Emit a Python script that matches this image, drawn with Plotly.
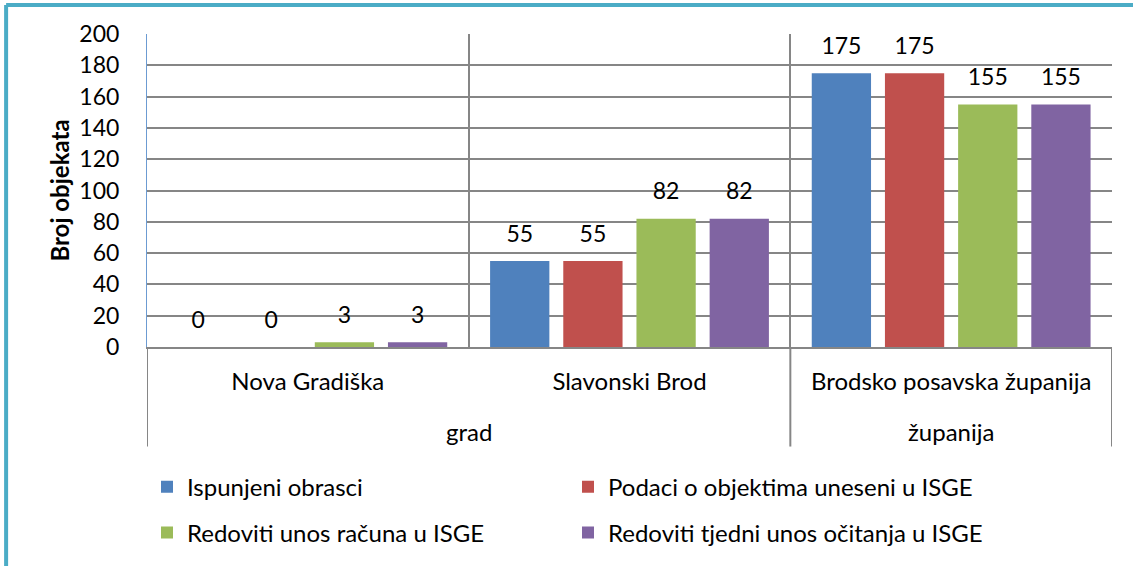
import plotly.graph_objects as go

categories = ["Nova Gradiška", "Slavonski Brod", "Brodsko posavska županija"]
groups = ["grad", "grad", "županija"]
series_names = [
    "Ispunjeni obrasci",
    "Podaci o objektima uneseni u ISGE",
    "Redoviti unos računa u ISGE",
    "Redoviti tjedni unos očitanja u ISGE",
]
ispunjeni = [0, 55, 175]
podaci = [0, 55, 175]
racuni = [3, 82, 155]
tjedni = [3, 82, 155]
series_values = [ispunjeni, podaci, racuni, tjedni]
colors = ["#4F81BD", "#C0504D", "#9BBB59", "#8064A2"]
legend_ids = ["legend", "legend", "legend2", "legend2"]
y_ticks = list(range(0, 201, 20))

FONT = "Lato"
fig = go.Figure()

for i, (name, vals) in enumerate(zip(series_names, series_values)):
    fig.add_trace(go.Bar(
        x=categories, y=vals, name=name,
        marker=dict(color=colors[i], line=dict(width=0)),
        offsetgroup=str(i), legend=legend_ids[i],
    ))
for i, (name, vals) in enumerate(zip(series_names, series_values)):
    fig.add_trace(go.Scatter(
        x=categories, y=vals, mode="text+markers", text=[str(v) for v in vals],
        textposition="top center", textfont=dict(family=FONT, size=23, color="#000"),
        marker=dict(size=20, opacity=0), offsetgroup=str(i), showlegend=False,
        cliponaxis=False, hoverinfo="skip",
    ))

n = len(categories)
shapes = []
annotations = []
start = 0
bounds = [-0.5]
for j in range(1, n + 1):
    if j == n or groups[j] != groups[start]:
        center = (start + j - 1) / 2
        annotations.append(dict(x=center, xref="x", y=-0.27, yref="paper", text=groups[start],
                                showarrow=False, font=dict(family=FONT, size=24, color="#000"),
                                yanchor="middle"))
        bounds.append(j - 0.5)
        start = j
for b in bounds:
    shapes.append(dict(type="line", xref="x", yref="paper", x0=b, x1=b, y0=0, y1=-0.318,
                       line=dict(color="#868686", width=2)))

# teal frame (top and left)
shapes.append(dict(type="line", xref="paper", yref="paper", x0=-0.146, x1=1.03, y0=1.093, y1=1.093,
                   line=dict(color="#4BACC6", width=4)))
shapes.append(dict(type="line", xref="paper", yref="paper", x0=-0.146, x1=-0.146, y0=1.093, y1=-0.72,
                   line=dict(color="#4BACC6", width=4)))

fig.update_layout(
    width=1133, height=566,
    margin=dict(l=147, r=21, t=34, b=218),
    paper_bgcolor="white", plot_bgcolor="white",
    barmode="group", bargap=0.09, bargroupgap=0.19,
    scattermode="group", scattergap=0.09,
    font=dict(family=FONT, size=24, color="#000"),
    shapes=shapes, annotations=annotations,
    legend=dict(orientation="h", x=0.0, xanchor="left", y=-0.443, yanchor="middle",
                entrywidth=376, entrywidthmode="pixels", font=dict(family=FONT, size=24),
                bgcolor="rgba(0,0,0,0)"),
    legend2=dict(orientation="h", x=0.0, xanchor="left", y=-0.589, yanchor="middle",
                 entrywidth=376, entrywidthmode="pixels", font=dict(family=FONT, size=24),
                 bgcolor="rgba(0,0,0,0)"),
    showlegend=True,
)
fig.update_xaxes(
    type="category", tickson="boundaries", showgrid=True, gridcolor="#868686", gridwidth=2,
    ticks="", ticklabelstandoff=12, showline=True, linecolor="#868686", linewidth=2,
    tickfont=dict(family=FONT, size=24, color="#000"), range=[-0.5, n - 0.5],
)
fig.update_yaxes(
    range=[0, 200], tickvals=y_ticks, showgrid=True, gridcolor="#868686", gridwidth=2,
    zeroline=False, showline=True, linecolor="#6C9BD2", linewidth=1, ticks="",
    ticklabelstandoff=22, tickfont=dict(family=FONT, size=23, color="#000"),
    title=dict(text="<b>Broj objekata</b>", font=dict(family=FONT, size=24, color="#000"), standoff=2),
)

fig.write_html("out.html", config={"displayModeBar": False},
               post_script="document.body.style.margin='0px';document.body.style.overflow='hidden';")
